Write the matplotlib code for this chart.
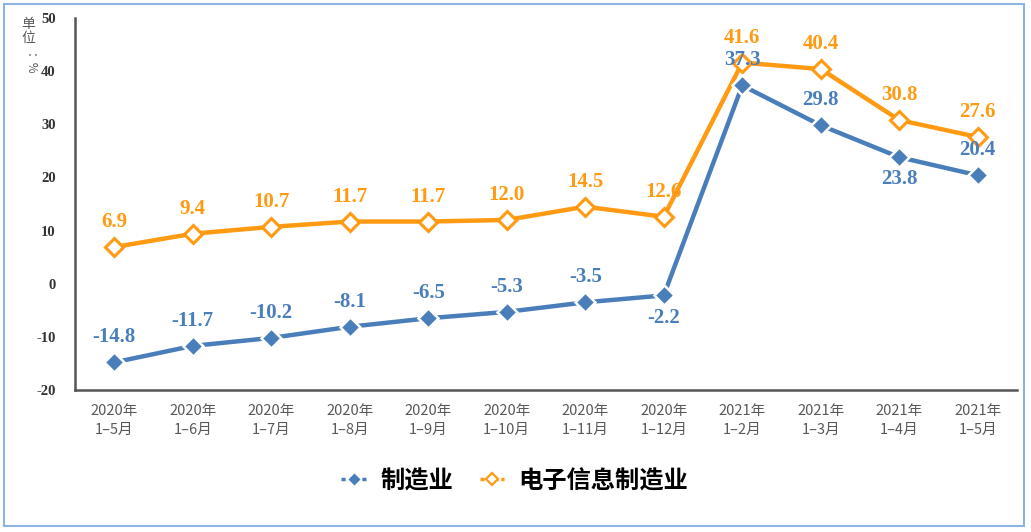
import matplotlib
matplotlib.use("Agg")
import matplotlib.pyplot as plt
from matplotlib.patches import Rectangle
from matplotlib.lines import Line2D

categories = ["2020年\n1–5月", "2020年\n1–6月", "2020年\n1–7月", "2020年\n1–8月",
              "2020年\n1–9月", "2020年\n1–10月", "2020年\n1–11月", "2020年\n1–12月",
              "2021年\n1–2月", "2021年\n1–3月", "2021年\n1–4月", "2021年\n1–5月"]
manufacturing = [-14.8, -11.7, -10.2, -8.1, -6.5, -5.3, -3.5, -2.2, 37.3, 29.8, 23.8, 20.4]
electronics = [6.9, 9.4, 10.7, 11.7, 11.7, 12.0, 14.5, 12.6, 41.6, 40.4, 30.8, 27.6]
manu_label_pos = ["above"] * 7 + ["below", "above", "above", "below", "above"]
y_ticks = [-20, -10, 0, 10, 20, 30, 40, 50]
series_names = ["制造业", "电子信息制造业"]

BLUE = "#4A7EBB"
ORANGE = "#FF9A12"
CJK = ["Noto Sans CJK SC", "DejaVu Sans"]
SERIF = ["Liberation Serif", "DejaVu Serif"]

fig = plt.figure(figsize=(10.31, 5.32), dpi=100)
ax = fig.add_axes([75 / 1031, 1 - 390 / 532, (1017 - 75) / 1031, (390 - 18) / 532])

x = list(range(len(categories)))
ax.plot(x, electronics, color=ORANGE, lw=3.2, marker="D", ms=9,
        mfc="white", mec=ORANGE, mew=2.2, zorder=3, solid_capstyle="butt")
ax.plot(x, manufacturing, color=BLUE, lw=3.2, marker="D", ms=10,
        mfc=BLUE, mec="white", mew=1.8, zorder=4, solid_capstyle="butt")

for xi, v in zip(x, electronics):
    ax.annotate(f"{v:.1f}", (xi, v), xytext=(0, 18), textcoords="offset points",
                ha="center", va="center", color=ORANGE, fontsize=15,
                fontweight="bold", family=SERIF, zorder=5)
for xi, v, pos in zip(x, manufacturing, manu_label_pos):
    dy = 18 if pos == "above" else -16
    ax.annotate(f"{v:.1f}", (xi, v), xytext=(0, dy), textcoords="offset points",
                ha="center", va="center", color=BLUE, fontsize=15,
                fontweight="bold", family=SERIF, zorder=5)

ax.set_xlim(-0.5, len(categories) - 0.5)
ax.set_ylim(-20, 50)
ax.set_yticks(y_ticks)
ax.set_yticklabels([str(t) for t in y_ticks], family=SERIF, fontweight="bold",
                   fontsize=10.5, color="#333333")
ax.set_xticks(x)
ax.set_xticklabels(categories, family=CJK, fontsize=10.5, color="#595959",
                   linespacing=1.45)
ax.tick_params(axis="both", length=0)
ax.tick_params(axis="y", pad=14)
ax.tick_params(axis="x", pad=10)
for s in ["top", "right"]:
    ax.spines[s].set_visible(False)
for s in ["left", "bottom"]:
    ax.spines[s].set_color("#555555")
    ax.spines[s].set_linewidth(1.8)

fig.text(28 / 1031, 1 - 31 / 532, "单\n位", family=CJK, fontsize=10,
         color="#595959", ha="center", va="center", linespacing=1.05)
fig.text(29 / 1031, 1 - 64 / 532, "：%", family=CJK, fontsize=8.5,
         color="#595959", ha="center", va="center", rotation=-90)

handles = [
    Line2D([0], [0], color=BLUE, lw=2.5, ls=(0, (1.2, 0.8)), marker="D", ms=7,
           mfc=BLUE, mec="white", mew=1),
    Line2D([0], [0], color=ORANGE, lw=2.5, ls=(0, (1.2, 0.8)), marker="D", ms=6,
           mfc="white", mec=ORANGE, mew=1.6),
]
fig.legend(handles, series_names, loc="center", bbox_to_anchor=(515 / 1031, 1 - 481 / 532),
           ncol=2, frameon=False, handlelength=1.0, columnspacing=1.1, handletextpad=0.6,
           prop={"family": CJK, "weight": "bold", "size": 17.5})

fig.patches.append(Rectangle((4 / 1031, 1 - 526 / 532), 1020 / 1031, 522 / 532,
                             transform=fig.transFigure, fill=False,
                             edgecolor="#8DB3E2", lw=1.5))

fig.savefig("out.png", dpi=100)
